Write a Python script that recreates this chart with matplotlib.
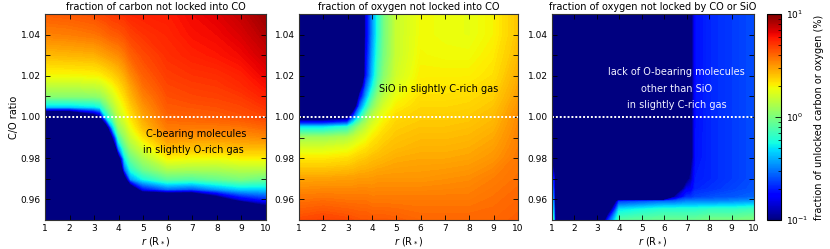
import numpy as np
import matplotlib
matplotlib.use('Agg')
import matplotlib.pyplot as plt
from matplotlib.colors import LogNorm
from matplotlib.cm import ScalarMappable
from matplotlib.ticker import MultipleLocator, FixedLocator, FormatStrFormatter

plt.rcParams['font.family'] = ['DejaVu Sans']
plt.rcParams['font.size'] = 7
plt.rcParams['mathtext.default'] = 'regular'

NAVY = -2.0  # log10 value well below the 0.1 % colour floor

# ---------------- Panel 1: fraction of carbon not locked into CO (log10 %) ----------------
r_carbon = [1, 2, 3, 3.25, 3.5, 3.75, 4, 4.25, 4.5, 5, 6, 7, 8, 9, 10]
co_carbon = [0.95, 0.955, 0.96, 0.965, 0.97, 0.975, 0.98, 0.985, 0.99, 0.995,
             1.0, 1.005, 1.01, 1.015, 1.02, 1.03, 1.04, 1.05]
log_carbon_cols = [
    [NAVY]*11 + [-0.35, 0.02, 0.15, 0.28, 0.42, 0.54, 0.62],
    [NAVY]*11 + [-0.35, 0.02, 0.15, 0.28, 0.43, 0.55, 0.63],
    [NAVY]*10 + [-1.3, -0.3, 0.03, 0.17, 0.29, 0.44, 0.57, 0.65],
    [NAVY]*10 + [-1.05, -0.25, 0.05, 0.18, 0.30, 0.46, 0.58, 0.67],
    [NAVY]*9 + [-1.3, -0.3, -0.05, 0.12, 0.23, 0.33, 0.48, 0.60, 0.68],
    [NAVY]*8 + [-1.05, -0.4, -0.05, 0.10, 0.20, 0.28, 0.36, 0.50, 0.62, 0.70],
    [NAVY]*6 + [-1.3, -0.5, -0.15, 0.05, 0.15, 0.22, 0.28, 0.34, 0.40, 0.52, 0.63, 0.71],
    [NAVY]*4 + [-1.3, -0.55, -0.3, -0.1, 0.05, 0.15, 0.24, 0.30, 0.35, 0.40, 0.45, 0.56, 0.65, 0.72],
    [NAVY]*3 + [-1.5, -0.45, -0.2, -0.05, 0.08, 0.18, 0.27, 0.33, 0.38, 0.43, 0.47, 0.52, 0.61, 0.68, 0.74],
    [NAVY]*3 + [-0.75, -0.25, -0.02, 0.10, 0.22, 0.33, 0.41, 0.46, 0.50, 0.54, 0.58, 0.61, 0.66, 0.71, 0.75],
    [NAVY]*3 + [-0.55, -0.08, 0.13, 0.30, 0.42, 0.50, 0.56, 0.60, 0.63, 0.65, 0.67, 0.69, 0.72, 0.74, 0.76],
    [NAVY]*3 + [-0.6, -0.1, 0.12, 0.28, 0.40, 0.49, 0.56, 0.61, 0.64, 0.67, 0.69, 0.71, 0.75, 0.78, 0.80],
    [NAVY, NAVY, -1.3, -0.45, -0.05, 0.12, 0.27, 0.40, 0.49, 0.56, 0.62, 0.65, 0.68, 0.70, 0.72, 0.77, 0.80, 0.83],
    [NAVY, NAVY, -0.85, -0.35, 0.0, 0.15, 0.30, 0.42, 0.50, 0.57, 0.64, 0.67, 0.70, 0.73, 0.75, 0.80, 0.84, 0.88],
    [NAVY, -1.25, -0.7, -0.35, -0.05, 0.15, 0.30, 0.42, 0.52, 0.60, 0.67, 0.71, 0.75, 0.78, 0.81, 0.86, 0.91, 0.95],
]

# ---------------- Panel 2: fraction of oxygen not locked into CO (log10 %) ----------------
r_oxygen = [1, 2, 3, 3.25, 3.5, 3.75, 4, 4.25, 4.5, 5, 6, 7, 8, 9, 10]
co_oxygen = [0.95, 0.96, 0.97, 0.98, 0.985, 0.99, 0.995, 1.0, 1.005, 1.01,
             1.015, 1.02, 1.03, 1.04, 1.05]
log_oxygen_cols = [
    [0.66, 0.57, 0.47, 0.32, 0.22, 0.08, -0.30, -1.30] + [NAVY]*7,
    [0.68, 0.58, 0.47, 0.32, 0.22, 0.08, -0.30, -1.30] + [NAVY]*7,
    [0.66, 0.57, 0.48, 0.34, 0.25, 0.12, -0.20, -1.15] + [NAVY]*7,
    [0.65, 0.57, 0.48, 0.36, 0.28, 0.17, -0.05, -0.60, -1.30] + [NAVY]*6,
    [0.64, 0.57, 0.49, 0.38, 0.31, 0.22, 0.08, -0.25, -0.55, -0.85, -1.30] + [NAVY]*4,
    [0.64, 0.57, 0.49, 0.39, 0.33, 0.26, 0.16, 0.0, -0.25, -0.45, -0.60, -0.75, -0.80, -0.85, -0.85],
    [0.63, 0.56, 0.49, 0.41, 0.36, 0.31, 0.24, 0.14, 0.0, -0.15, -0.30, -0.40, -0.45, -0.50, -0.50],
    [0.63, 0.56, 0.50, 0.42, 0.38, 0.34, 0.29, 0.22, 0.13, 0.05, -0.05, -0.12, -0.18, -0.22, -0.22],
    [0.63, 0.56, 0.50, 0.43, 0.40, 0.37, 0.33, 0.28, 0.22, 0.15, 0.08, 0.03, -0.01, -0.02, -0.02],
    [0.62, 0.56, 0.50, 0.45, 0.42, 0.40, 0.38, 0.35, 0.31, 0.27, 0.23, 0.20, 0.18, 0.18, 0.18],
    [0.60, 0.56, 0.50, 0.46, 0.44, 0.42, 0.40, 0.38, 0.36, 0.34, 0.32, 0.31, 0.29, 0.28, 0.28],
    [0.60, 0.56, 0.51, 0.46, 0.44, 0.42, 0.40, 0.38, 0.36, 0.34, 0.325, 0.31, 0.28, 0.27, 0.27],
    [0.60, 0.56, 0.52, 0.47, 0.45, 0.43, 0.41, 0.39, 0.37, 0.35, 0.33, 0.31, 0.28, 0.26, 0.26],
    [0.60, 0.58, 0.55, 0.50, 0.48, 0.46, 0.44, 0.42, 0.40, 0.38, 0.36, 0.34, 0.32, 0.30, 0.30],
    [0.62, 0.60, 0.58, 0.56, 0.55, 0.54, 0.53, 0.52, 0.50, 0.48, 0.465, 0.45, 0.42, 0.40, 0.40],
]

# ------- Panel 3: fraction of oxygen not locked by CO or SiO (log10 %) -------
r_rest = [1, 1.1, 1.2, 3, 3.5, 4, 6, 6.5, 7, 7.2, 7.4, 8, 9, 10]
co_rest = [0.95, 0.955, 0.959, 0.961, 0.965, 0.97, 0.98, 1.0, 1.05]
log_rest_cols = [
    [0.0, -0.2, -0.3, -0.35, -0.45, -0.6, -1.1, NAVY, NAVY],
    [-0.5, -0.6, -0.7, -0.75, -0.8, -0.85, -1.5, NAVY, NAVY],
    [NAVY]*9,
    [NAVY]*9,
    [-0.7, -1.3] + [NAVY]*7,
    [-0.1, -0.3, -0.65] + [NAVY]*6,
    [-0.05, -0.2, -0.55] + [NAVY]*6,
    [-0.05, -0.2, -0.55, -0.9, -1.4, NAVY, NAVY, NAVY, NAVY],
    [-0.05, -0.2, -0.5, -0.65, -0.8, -1.1, -1.6, NAVY, NAVY],
    [-0.05, -0.2, -0.5, -0.65, -0.78, -0.92, -1.1, -1.1, -1.1],
    [-0.05, -0.2, -0.5, -0.62, -0.68, -0.70, -0.72, -0.73, -0.73],
    [-0.02, -0.18, -0.5, -0.6, -0.66, -0.68, -0.68, -0.68, -0.68],
    [-0.02, -0.18, -0.48, -0.58, -0.62, -0.64, -0.64, -0.64, -0.64],
    [0.0, -0.15, -0.45, -0.55, -0.59, -0.60, -0.60, -0.60, -0.60],
]

titles = ["fraction of carbon not locked into CO",
          "fraction of oxygen not locked into CO",
          "fraction of oxygen not locked by CO or SiO"]
xlabel = r"$\it{r}$ (R$_*$)"
ylabel = "C/O ratio"
cbar_label = "fraction of unlocked carbon or oxygen (%)"

panels = [(r_carbon, co_carbon, log_carbon_cols),
          (r_oxygen, co_oxygen, log_oxygen_cols),
          (r_rest, co_rest, log_rest_cols)]

W, H = 830, 249
fig = plt.figure(figsize=(W/100, H/100), dpi=100)
bottom = 1 - 220/H
height = 206/H
rects = [(45, 221), (299, 219), (552, 202)]
axes = [fig.add_axes([l/W, bottom, w/W, height]) for l, w in rects]
cax = fig.add_axes([767/W, bottom, 14/W, height])

levels = np.linspace(-1, 1, 161)
cmap = plt.get_cmap('jet')

for i, (ax, (rx, cy, cols)) in enumerate(zip(axes, panels)):
    Z = np.array(cols).T
    cs = ax.contourf(rx, cy, Z, levels=levels, cmap=cmap, extend='both')
    cs.set_edgecolor('face')
    cs.set_linewidth(0.3)
    ax.axhline(1.0, color='white', lw=1.4, ls=(0, (1, 1)))
    ax.set_xlim(1, 10)
    ax.set_ylim(0.95, 1.05)
    ax.xaxis.set_major_locator(MultipleLocator(1))
    ax.yaxis.set_major_locator(FixedLocator([0.96, 0.98, 1.00, 1.02, 1.04]))
    ax.yaxis.set_minor_locator(FixedLocator([0.95, 0.97, 0.99, 1.01, 1.03, 1.05]))
    ax.yaxis.set_major_formatter(FormatStrFormatter('%.2f'))
    ax.tick_params(which='both', direction='in', top=True, right=True,
                   labelsize=6.5, pad=3, color='black')
    ax.tick_params(which='major', length=3.5, width=0.6)
    ax.tick_params(which='minor', length=3.5, width=0.6)
    for sp in ax.spines.values():
        sp.set_linewidth(0.8)
        sp.set_color('#333333')
    ax.set_title(titles[i], fontsize=7, pad=3)
    ax.set_xlabel(xlabel, fontsize=7, labelpad=1)

axes[0].set_ylabel(ylabel, fontsize=7, labelpad=1.5)

axes[0].text(7.15, 0.9917, "C-bearing molecules", ha='center', va='center', fontsize=7, color='black')
axes[0].text(7.05, 0.9840, "in slightly O-rich gas", ha='center', va='center', fontsize=7, color='black')
axes[1].text(6.75, 1.0136, "SiO in slightly C-rich gas", ha='center', va='center', fontsize=7, color='black')
axes[2].text(6.55, 1.0218, "lack of O-bearing molecules", ha='center', va='center', fontsize=7, color='#f0f0ff')
axes[2].text(6.55, 1.0136, "other than SiO", ha='center', va='center', fontsize=7, color='#f0f0ff')
axes[2].text(6.55, 1.0058, "in slightly C-rich gas", ha='center', va='center', fontsize=7, color='#f0f0ff')

sm = ScalarMappable(norm=LogNorm(vmin=0.1, vmax=10), cmap=cmap)
cb = fig.colorbar(sm, cax=cax)
cb.outline.set_linewidth(0.8)
cax.tick_params(which='both', direction='in', labelsize=6.5, color='black')
cax.tick_params(which='major', length=4, width=0.6)
cax.tick_params(which='minor', length=2.5, width=0.5)
cb.set_label(cbar_label, fontsize=7, labelpad=4)

fig.savefig('out.png', dpi=100)
